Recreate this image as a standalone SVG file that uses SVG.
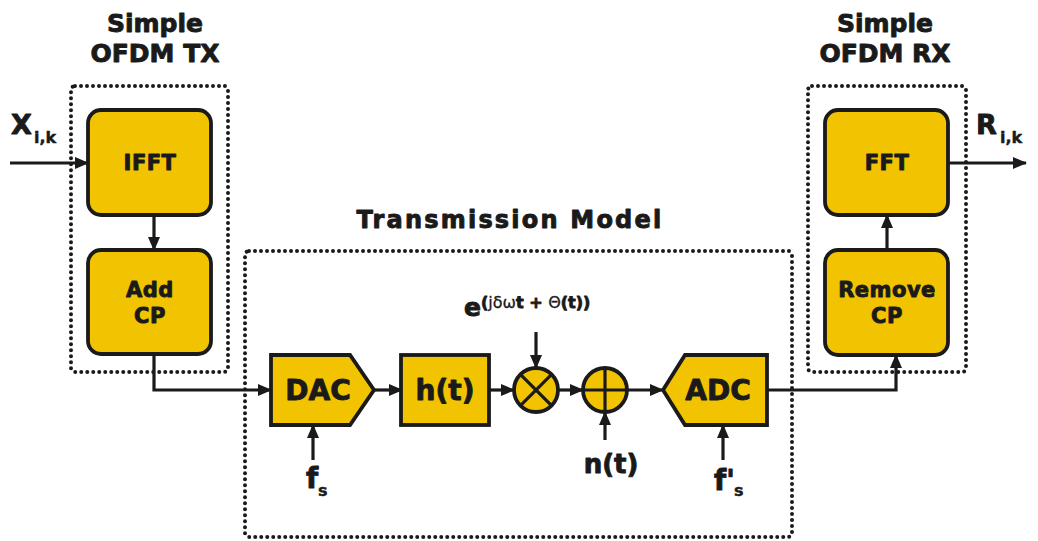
<svg xmlns="http://www.w3.org/2000/svg" width="1038" height="541" viewBox="0 0 1038 541">
<style>
.bg{fill:#ffffff}
.dot{fill:none;stroke:#1a1a1a;stroke-width:4;stroke-dasharray:0 6;stroke-linecap:round}
.blk{fill:#F2C300;stroke:#1a1a1a;stroke-width:3.8;stroke-linejoin:miter}
.con{fill:none;stroke:#1a1a1a;stroke-width:3.2}
.sym{fill:none;stroke:#1a1a1a;stroke-width:3.2}
text{font-family:"DejaVu Sans","Liberation Sans",sans-serif;font-weight:bold;fill:#1a1a1a;stroke:#1a1a1a;stroke-width:0.9;stroke-linejoin:round}
.title{font-size:25px;text-anchor:middle}
.lbl{font-size:21px;text-anchor:middle;letter-spacing:0.5px}
.big{font-size:28px;text-anchor:middle}
.sub{font-size:16px;stroke-width:0.4}
</style>
<defs>
<marker id="ah" markerUnits="userSpaceOnUse" markerWidth="14" markerHeight="12" refX="13" refY="6" orient="auto">
<path d="M0,0 L14,6 L0,12 z" fill="#1a1a1a"/>
</marker>
</defs>
<rect class="bg" x="0" y="0" width="1038" height="541"/>

<g id="titles">
<text class="title" x="155" y="32">Simple</text>
<text class="title" x="155" y="62">OFDM TX</text>
<text class="title" x="885" y="32">Simple</text>
<text class="title" x="885" y="62">OFDM RX</text>
<text x="510" y="228" style="font-size:24px;text-anchor:middle;letter-spacing:2.2px">Transmission Model</text>
</g>

<g id="groups">
<rect class="dot" x="71" y="86" width="157" height="286" rx="4"/>
<rect class="dot" x="245" y="251" width="547" height="286" rx="4"/>
<rect class="dot" x="808" y="86" width="158" height="286" rx="4"/>
</g>

<g id="connectors">
<line class="con" x1="10" y1="163" x2="88" y2="163" marker-end="url(#ah)"/>
<line class="con" x1="154" y1="215" x2="154" y2="250" marker-end="url(#ah)"/>
<polyline class="con" points="154,354 154,390 271,390" marker-end="url(#ah)"/>
<line class="con" x1="374" y1="390" x2="402" y2="390" marker-end="url(#ah)"/>
<line class="con" x1="489" y1="390" x2="514" y2="390" marker-end="url(#ah)"/>
<line class="con" x1="558" y1="390" x2="583" y2="390" marker-end="url(#ah)"/>
<line class="con" x1="627" y1="390" x2="663" y2="390" marker-end="url(#ah)"/>
<polyline class="con" points="767,390 896,390 896,355" marker-end="url(#ah)"/>
<line class="con" x1="887" y1="250" x2="887" y2="215" marker-end="url(#ah)"/>
<line class="con" x1="948" y1="163" x2="1026" y2="163" marker-end="url(#ah)"/>
<line class="con" x1="313" y1="460" x2="313" y2="425" marker-end="url(#ah)"/>
<line class="con" x1="536" y1="332" x2="536" y2="368" marker-end="url(#ah)"/>
<line class="con" x1="605" y1="440" x2="605" y2="412" marker-end="url(#ah)"/>
<line class="con" x1="723" y1="460" x2="723" y2="425" marker-end="url(#ah)"/>
</g>

<g id="ifft">
<rect class="blk" x="88" y="110" width="123" height="105" rx="13"/>
<text class="lbl" x="150" y="170">IFFT</text>
</g>
<g id="addcp">
<rect class="blk" x="88" y="250" width="123" height="104" rx="13"/>
<text class="lbl" x="150" y="297">Add</text>
<text class="lbl" x="150" y="323">CP</text>
</g>
<g id="dac">
<path class="blk" d="M271,355 L350,355 L374,390 L350,425 L271,425 Z"/>
<text class="big" x="318" y="400">DAC</text>
</g>
<g id="ht">
<rect class="blk" x="401" y="355" width="88" height="70"/>
<text class="big" x="445" y="400">h(t)</text>
</g>
<g id="mixer">
<circle class="blk" cx="536" cy="390" r="22"/>
<line class="sym" x1="520.4" y1="374.4" x2="551.6" y2="405.6"/>
<line class="sym" x1="551.6" y1="374.4" x2="520.4" y2="405.6"/>
</g>
<g id="adder">
<circle class="blk" cx="605" cy="390" r="22"/>
<line class="sym" x1="583" y1="390" x2="627" y2="390"/>
<line class="sym" x1="605" y1="368" x2="605" y2="412"/>
</g>
<g id="adc">
<path class="blk" d="M663,390 L685,355 L767,355 L767,425 L685,425 Z"/>
<text class="big" x="718" y="400">ADC</text>
</g>
<g id="removecp">
<rect class="blk" x="825" y="250" width="123" height="105" rx="13"/>
<text class="lbl" x="887" y="297">Remove</text>
<text class="lbl" x="887" y="323">CP</text>
</g>
<g id="fft">
<rect class="blk" x="825" y="110" width="123" height="105" rx="13"/>
<text class="lbl" x="887" y="170">FFT</text>
</g>

<g id="labels">
<text x="11" y="134" style="font-size:27px">X</text>
<text class="sub" x="34" y="143">i,k</text>
<text x="976" y="134" style="font-size:27px">R</text>
<text class="sub" x="1000" y="143">i,k</text>
<text x="464" y="316" style="font-size:25px">e</text>
<text x="481" y="308" style="font-size:16px">(<tspan style="font-weight:normal;stroke-width:0.3">jδω</tspan>t + <tspan style="font-weight:normal;stroke-width:0.3">Θ</tspan>(t))</text>
<text x="306" y="488" style="font-size:28px">f</text>
<text class="sub" x="318" y="496">s</text>
<text class="big" x="611" y="473" style="font-size:26px">n(t)</text>
<text x="714" y="490" style="font-size:28px">f'</text>
<text class="sub" x="734" y="496">s</text>
</g>
</svg>
